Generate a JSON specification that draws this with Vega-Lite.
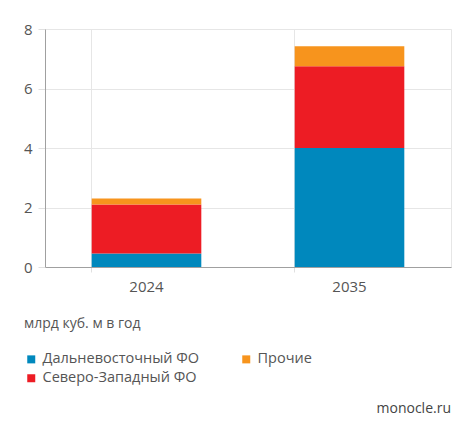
{
  "$schema": "https://vega.github.io/schema/vega-lite/v6.json",
  "width": 406,
  "height": 238,
  "autosize": {"type": "none"},
  "padding": {"left": 45, "top": 29, "right": 24, "bottom": 172},
  "background": "white",
  "config": {
    "font": "Open Sans",
    "view": {"stroke": "#e6e6e6", "strokeWidth": 1}
  },
  "title": {
    "text": "monocle.ru",
    "orient": "bottom",
    "anchor": "end",
    "fontSize": 14,
    "fontWeight": "normal",
    "color": "#444444",
    "offset": 17
  },
  "data": {
    "values": [
      {"year": "2024", "region": "Дальневосточный ФО", "value": 0.45, "ord": 1},
      {"year": "2024", "region": "Северо-Западный ФО", "value": 1.65, "ord": 2},
      {"year": "2024", "region": "Прочие", "value": 0.2, "ord": 3},
      {"year": "2035", "region": "Дальневосточный ФО", "value": 4.0, "ord": 1},
      {"year": "2035", "region": "Северо-Западный ФО", "value": 2.75, "ord": 2},
      {"year": "2035", "region": "Прочие", "value": 0.67, "ord": 3}
    ]
  },
  "mark": {"type": "bar"},
  "encoding": {
    "x": {
      "field": "year",
      "type": "nominal",
      "title": null,
      "scale": {"paddingInner": 0.46, "paddingOuter": 0.23},
      "axis": {
        "labelAngle": 0,
        "bandPosition": 0,
        "labelFontSize": 15,
        "labelColor": "#555555",
        "labelPadding": 7,
        "tickColor": "#e0e0e0",
        "tickSize": 5,
        "domainColor": "#a0a0a0",
        "gridColor": "#e6e6e6",
        "grid": true,
        "labelBound": false
      }
    },
    "y": {
      "field": "value",
      "type": "quantitative",
      "aggregate": "sum",
      "title": null,
      "scale": {"domain": [0, 8]},
      "axis": {
        "values": [0, 2, 4, 6, 8],
        "labelFontSize": 15,
        "labelColor": "#555555",
        "labelPadding": 6,
        "tickColor": "#e0e0e0",
        "tickSize": 7,
        "domainColor": "#a0a0a0",
        "gridColor": "#e6e6e6"
      }
    },
    "color": {
      "field": "region",
      "type": "nominal",
      "scale": {
        "domain": ["Дальневосточный ФО", "Прочие", "Северо-Западный ФО"],
        "range": ["#0088bd", "#f7941d", "#ed1c24"]
      },
      "legend": {
        "title": "млрд куб. м в год",
        "orient": "none",
        "legendX": -21,
        "legendY": 288,
        "direction": "horizontal",
        "columns": 2,
        "columnPadding": 39,
        "rowPadding": 4,
        "titleFontSize": 14,
        "titleFontWeight": "normal",
        "titleColor": "#555555",
        "titlePadding": 21,
        "labelFontSize": 14.5,
        "labelColor": "#555555",
        "labelOffset": 4,
        "symbolType": "square",
        "symbolSize": 64,
        "symbolStrokeWidth": 0,
        "symbolOpacity": 1
      }
    },
    "order": {"field": "ord", "type": "quantitative"}
  }
}
